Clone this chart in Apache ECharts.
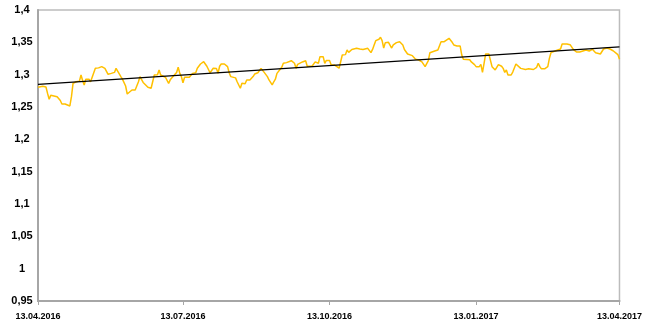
<!DOCTYPE html>
<html>
<head>
<meta charset="utf-8">
<script src="https://cdn.jsdelivr.net/npm/echarts@6/dist/echarts.min.js"></script>
<style>html,body{margin:0;padding:0;background:#fff}#c{width:645px;height:324px}</style>
</head>
<body>
<div id="c"></div>
<script>
// Day offsets from 13.04.2016
var days = [
  0,1,3,5,6,7,8,9,10,12,
  13,14,15,17,20,21,22,23,24,26,
  27,28,29,30,32,33,34,36,38,40,
  41,42,44,46,48,49,50,52,53,55,
  56,57,59,61,62,63,64,66,67,69,
  71,72,73,75,76,77,78,80,82,83,
  84,85,87,88,89,90,91,92,95,96,
  97,99,100,102,104,105,106,108,109,110,
  111,112,113,114,115,117,118,119,120,121,
  122,124,125,126,127,128,130,131,132,133,
  134,135,136,138,140,141,142,143,144,145,
  147,148,149,150,151,153,154,155,156,157,
  159,160,161,162,163,164,166,168,169,170,
  172,174,175,176,177,178,179,180,181,182,
  183,184,186,187,189,190,191,192,193,194,
  195,197,198,200,202,204,205,207,208,209,
  210,211,212,214,215,216,217,218,219,220,
  222,223,225,226,227,228,229,230,232,233,
  235,236,237,238,239,241,242,243,244,245,
  246,247,249,251,252,253,254,255,256,258,
  259,260,261,263,265,266,267,269,271,272,
  274,275,277,278,279,280,281,283,284,285,
  287,288,289,290,291,292,293,294,295,297,
  298,300,301,303,304,306,308,309,311,312,
  313,314,315,316,318,320,321,322,323,325,
  326,328,329,330,332,333,334,335,336,338,
  340,342,344,345,346,348,349,350,351,353,
  354,355,357,359,360,361,362,364,365
];
var values = [
  1.2805,1.2825,1.282,1.281,1.271,1.262,1.268,1.266,1.267,1.266,
  1.263,1.260,1.2547,1.2547,1.2516,1.266,1.2866,1.286,1.289,1.290,
  1.2995,1.291,1.284,1.293,1.293,1.289,1.292,1.310,1.3105,1.3124,
  1.313,1.3097,1.3006,1.302,1.3035,1.3097,1.308,1.297,1.293,1.2825,
  1.2701,1.272,1.2763,1.2763,1.2825,1.2887,1.297,1.288,1.289,1.2805,
  1.279,1.279,1.2995,1.300,1.3072,1.2995,1.297,1.296,1.2866,1.292,
  1.294,1.298,1.3035,1.3114,1.302,1.297,1.2876,1.296,1.296,1.297,
  1.302,1.303,1.310,1.3165,1.320,1.3186,1.313,1.303,1.303,1.310,
  1.3114,1.3097,1.302,1.313,1.3165,1.3165,1.315,1.3124,1.303,1.297,
  1.295,1.295,1.289,1.2866,1.279,1.2866,1.286,1.2918,1.289,1.2918,
  1.293,1.297,1.301,1.303,1.3097,1.3114,1.3035,1.303,1.297,1.2918,
  1.2841,1.289,1.293,1.302,1.3035,1.3114,1.3176,1.317,1.3186,1.3216,
  1.3216,1.3227,1.3176,1.3097,1.316,1.3176,1.3197,1.3216,1.313,1.313,
  1.313,1.3197,1.319,1.3176,1.3278,1.330,1.3278,1.3176,1.322,1.324,
  1.322,1.3155,1.315,1.3124,1.310,1.313,1.3304,1.332,1.331,1.3382,
  1.3345,1.339,1.339,1.3407,1.3397,1.339,1.339,1.3407,1.339,1.334,
  1.339,1.3459,1.3526,1.3547,1.3578,1.3526,1.3412,1.3495,1.347,1.350,
  1.3412,1.346,1.3495,1.350,1.351,1.351,1.346,1.339,1.332,1.3294,
  1.3294,1.330,1.324,1.324,1.3227,1.3197,1.3176,1.3124,1.313,1.3216,
  1.334,1.3335,1.3366,1.338,1.3395,1.351,1.3526,1.351,1.3526,1.3562,
  1.3562,1.350,1.346,1.3443,1.3443,1.3304,1.324,1.3235,1.323,1.3197,
  1.3155,1.3124,1.3124,1.316,1.3035,1.3176,1.332,1.332,1.331,1.3124,
  1.3073,1.3083,1.3155,1.3165,1.313,1.3097,1.3035,1.3073,1.2995,1.2995,
  1.304,1.3165,1.315,1.3097,1.309,1.308,1.309,1.309,1.308,1.310,
  1.3114,1.3176,1.3124,1.309,1.309,1.3124,1.3252,1.334,1.3355,1.337,
  1.3397,1.3397,1.3474,1.3495,1.3474,1.3474,1.3464,1.346,1.3392,1.335,
  1.335,1.3366,1.338,1.3392,1.3366,1.3392,1.3392,1.334,1.331,1.332,
  1.332,1.3397,1.3412,1.3397,1.339,1.337,1.334,1.331,1.3238
];
// Linear trend line end points
var trendDays = [0, 365];
var trendValues = [1.285, 1.343];
// X tick positions (days) and labels
var tickDays = [0, 91, 183, 275, 365];
var tickLabels = ['13.04.2016', '13.07.2016', '13.10.2016', '13.01.2017', '13.04.2017'];

var chart = echarts.init(document.getElementById('c'), null, {renderer: 'canvas'});
var fontFam = 'Liberation Sans, Arial, sans-serif';
chart.setOption({
  animation: false,
  backgroundColor: '#ffffff',
  grid: {left: 38, right: 23, top: 10, bottom: 23, show: true, borderColor: '#bcbcbc', borderWidth: 1.5, backgroundColor: 'transparent'},
  xAxis: {
    type: 'value', min: 0, max: 365,
    axisLine: {show: true, lineStyle: {color: '#a6a6a6', width: 2}},
    axisTick: {show: true, customValues: tickDays, length: 4, lineStyle: {color: '#a6a6a6', width: 1}},
    axisLabel: {
      customValues: tickDays, margin: 11, color: '#000', fontSize: 9, fontWeight: 'bold', fontFamily: fontFam,
      formatter: function (v) { var i = tickDays.indexOf(Math.round(v)); return i >= 0 ? tickLabels[i] : ''; }
    },
    splitLine: {show: false}
  },
  yAxis: {
    type: 'value', min: 0.95, max: 1.4, interval: 0.05,
    axisLine: {show: true, lineStyle: {color: '#a6a6a6', width: 2}},
    axisTick: {show: false},
    axisLabel: {
      margin: 16, align: 'center', color: '#000', fontSize: 11, fontWeight: 'bold', fontFamily: fontFam,
      formatter: function (v) { return String(+v.toFixed(2)).replace('.', ','); }
    },
    splitLine: {show: false}
  },
  series: [
    {
      type: 'line', showSymbol: false, symbol: 'none',
      data: days.map(function (d, i) { return [d, values[i]]; }),
      lineStyle: {color: '#FFC000', width: 1.5}, z: 2
    },
    {
      type: 'line', showSymbol: false, symbol: 'none',
      data: trendDays.map(function (d, i) { return [d, trendValues[i]]; }),
      lineStyle: {color: '#000000', width: 1.2}, z: 3
    }
  ]
});
</script>
</body>
</html>
